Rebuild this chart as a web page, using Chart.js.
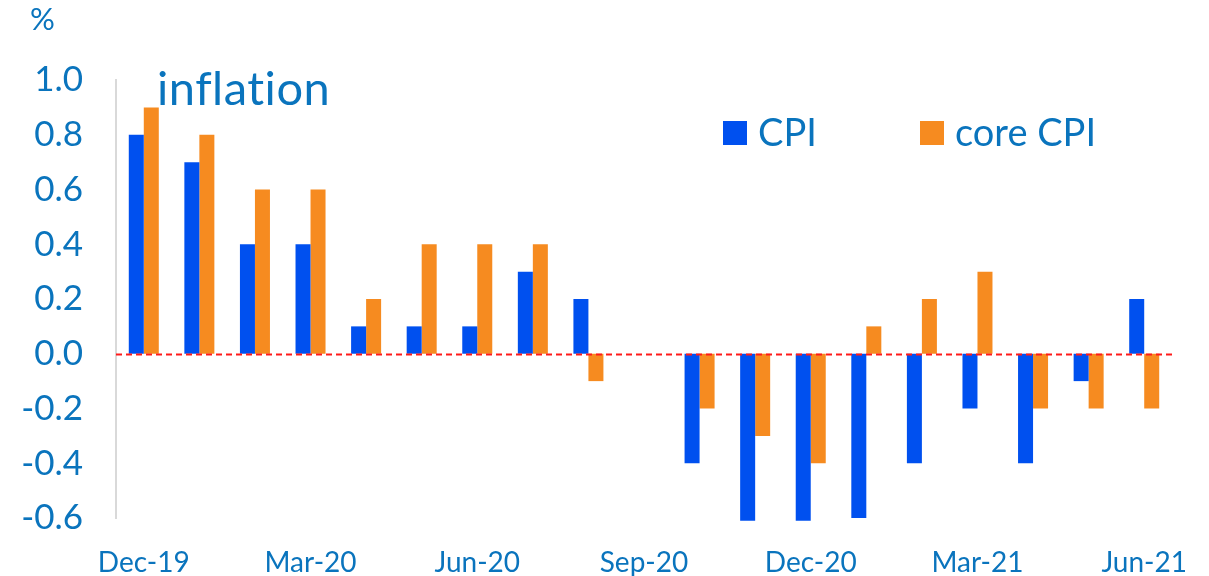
<!DOCTYPE html>
<html>
<head>
<meta charset="utf-8">
<script src="https://cdn.jsdelivr.net/npm/chart.js@4.4.1/dist/chart.umd.min.js"></script>
<style>
  html, body { margin: 0; padding: 0; background: #fff; }
  #wrap { width: 1209px; height: 576px; }
</style>
</head>
<body>
<div id="wrap"><canvas id="canvas" width="1209" height="576"></canvas></div>
<script>
// monthly change, %
var months = ['Dec-19', 'Jan-20', 'Feb-20', 'Mar-20', 'Apr-20', 'May-20', 'Jun-20',
              'Jul-20', 'Aug-20', 'Sep-20', 'Oct-20', 'Nov-20', 'Dec-20', 'Jan-21',
              'Feb-21', 'Mar-21', 'Apr-21', 'May-21', 'Jun-21'];
var cpi     = [0.8, 0.7, 0.4, 0.4, 0.1, 0.1, 0.1, 0.3, 0.2, 0, -0.4, -0.61, -0.61, -0.6, -0.4, -0.2, -0.4, -0.1, 0.2];
var coreCpi = [0.9, 0.8, 0.6, 0.6, 0.2, 0.4, 0.4, 0.4, -0.1, 0, -0.2, -0.3, -0.4, 0.1, 0.2, 0.3, -0.2, -0.2, -0.2];
var yTicks  = [-0.6, -0.4, -0.2, 0.0, 0.2, 0.4, 0.6, 0.8, 1.0];

var textBlue = '#0a74bd';
var font = 'Lato';

// % label, "inflation" title, legend and the dashed zero line
var extras = {
    id: 'extras',
    afterDatasetsDraw: function(chart) {
        var ctx = chart.ctx;
        var y = chart.scales.y;
        var area = chart.chartArea;
        ctx.save();

        // zero line
        var y0 = Math.round(y.getPixelForValue(0)) + 0.5;
        ctx.strokeStyle = '#ff1a1a';
        ctx.lineWidth = 2;
        ctx.setLineDash([6, 4]);
        ctx.beginPath();
        ctx.moveTo(area.left, y0);
        ctx.lineTo(area.right, y0);
        ctx.stroke();
        ctx.setLineDash([]);

        ctx.fillStyle = textBlue;
        ctx.textBaseline = 'alphabetic';
        ctx.textAlign = 'left';
        ctx.font = '31px ' + font;
        ctx.fillText('%', 30, 30);

        ctx.font = '47px ' + font;
        ctx.letterSpacing = '0.5px';   // keeps f and l apart
        ctx.fillText('inflation', 157, 105);
        ctx.letterSpacing = '0px';

        // legend
        ctx.font = '38px ' + font;
        ctx.textBaseline = 'middle';
        var lx = [723, 920];
        chart.data.datasets.forEach(function(ds, i) {
            ctx.fillStyle = ds.backgroundColor;
            ctx.fillRect(lx[i], 121, 24, 24);
            ctx.fillStyle = textBlue;
            ctx.fillText(ds.label, lx[i] + 35, 134);
        });
        ctx.restore();
    }
};

new Chart(document.getElementById('canvas'), {
    type: 'bar',
    data: {
        labels: months,
        datasets: [{
            label: 'CPI',
            data: cpi,
            backgroundColor: '#0050ef'
        }, {
            label: 'core CPI',
            data: coreCpi,
            backgroundColor: '#f68b20'
        }]
    },
    options: {
        responsive: false,
        animation: false,
        events: [],
        layout: { padding: { left: 0, right: 37, top: 80, bottom: 0 } },
        datasets: {
            bar: { categoryPercentage: 0.54, barPercentage: 1.0, clip: false }
        },
        plugins: {
            legend: { display: false },
            tooltip: { enabled: false }
        },
        scales: {
            x: {
                grid: { display: false },
                border: { display: false },
                afterFit: function(s) { s.height = 58; },
                ticks: {
                    autoSkip: false,
                    maxRotation: 0,
                    padding: 20,
                    color: textBlue,
                    font: { family: font, size: 28 },
                    callback: function(v, i) { return i % 3 === 0 ? months[i] : ''; }
                }
            },
            y: {
                min: yTicks[0],
                max: yTicks[yTicks.length - 1],
                afterFit: function(s) { s.width = 116; },
                afterBuildTicks: function(s) {
                    s.ticks = yTicks.map(function(v) { return { value: v }; });
                },
                grid: { display: false },
                border: { display: true, color: '#d9d9d9', width: 2 },
                ticks: {
                    padding: 25,
                    color: textBlue,
                    font: { family: font, size: 35 },
                    callback: function(v) { return Math.abs(v) < 1e-9 ? '0.0' : v.toFixed(1); }
                }
            }
        }
    },
    plugins: [extras]
});
</script>
</body>
</html>
